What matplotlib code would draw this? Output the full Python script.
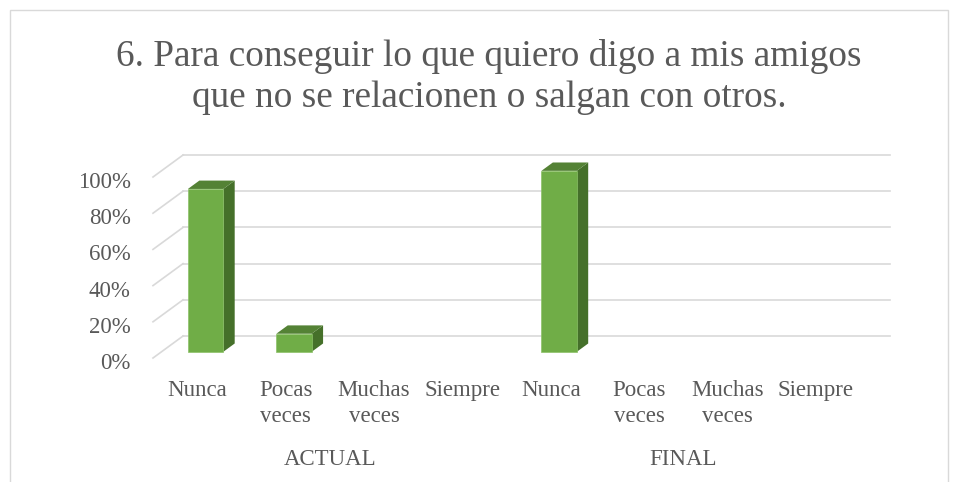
import matplotlib
matplotlib.use('Agg')
import matplotlib.pyplot as plt
from matplotlib.patches import Polygon, Rectangle
from matplotlib.transforms import ScaledTranslation

# DATA
groups = ['ACTUAL', 'FINAL']
categories = ['Nunca', 'Pocas\nveces', 'Muchas\nveces', 'Siempre']
actual = [0.90, 0.10, 0.0, 0.0]
final = [1.00, 0.0, 0.0, 0.0]
y_ticks = [0, 0.2, 0.4, 0.6, 0.8, 1.0]
y_labels = ['0%', '20%', '40%', '60%', '80%', '100%']
title = '6. Para conseguir lo que quiero digo a mis amigos\nque no se relacionen o salgan con otros.'

# STYLE
plt.rcParams['font.family'] = ['Liberation Serif', 'DejaVu Serif']
TXT = '#595959'
GRID = '#D9D9D9'
C_FRONT, C_TOP, C_SIDE = '#70AD47', '#548235', '#45702A'

# fake 3d: depth offset of the back wall, in data units
DX, DY = 0.34, 0.1215
BAR_W = 0.40
F0, F1 = 0.28, 0.66   # bar front / back depth fraction

fig = plt.figure(figsize=(9.55, 4.82), dpi=100)
ax = fig.add_axes([153 / 955, 124 / 482, 707 / 955, 181 / 482])
ax.set_xlim(-0.5, 7.5)
ax.set_ylim(0, 1)
for s in ax.spines.values():
    s.set_visible(False)
ax.patch.set_visible(False)

# walls / gridlines
for t in y_ticks:
    ax.plot([-0.5 + DX, 7.5 + DX], [t + DY, t + DY], color=GRID, lw=1.2, clip_on=False, zorder=1)
    ax.plot([-0.5, -0.5 + DX], [t, t + DY], color=GRID, lw=1.2, clip_on=False, zorder=1)

# bars
values = actual + final
for i, v in enumerate(values):
    if v <= 0:
        continue
    x0 = i - BAR_W / 2 + F0 * DX
    x1 = x0 + BAR_W
    y0 = F0 * DY
    y1 = v + F0 * DY
    ddx = (F1 - F0) * DX
    ddy = (F1 - F0) * DY
    side = [(x1, y0), (x1 + ddx, y0 + ddy), (x1 + ddx, y1 + ddy), (x1, y1)]
    top = [(x0, y1), (x1, y1), (x1 + ddx, y1 + ddy), (x0 + ddx, y1 + ddy)]
    front = [(x0, y0), (x1, y0), (x1, y1), (x0, y1)]
    ax.add_patch(Polygon(side, closed=True, fc=C_SIDE, ec='none', clip_on=False, zorder=3))
    ax.add_patch(Polygon(top, closed=True, fc=C_TOP, ec='none', clip_on=False, zorder=3))
    ax.add_patch(Polygon(front, closed=True, fc=C_FRONT, ec='#8CC168', lw=0.5, clip_on=False, zorder=4))

# axes labels
ax.set_yticks(y_ticks)
ax.set_yticklabels(y_labels, fontsize=16.5, color=TXT)
ax.set_xticks(range(len(values)))
ax.set_xticklabels(categories * len(groups), fontsize=16.5, color=TXT, linespacing=1.3)
ax.tick_params(axis='both', length=0)
ax.tick_params(axis='y', pad=16)
ax.tick_params(axis='x', pad=16)
shift = ScaledTranslation(0, -3 / 100, fig.dpi_scale_trans)
for lab in ax.get_yticklabels():
    lab.set_transform(lab.get_transform() + shift)

for g, name in enumerate(groups):
    ax.text(g * 4 + 1.5, -0.56, name, ha='center', va='center', fontsize=16.5, color=TXT)

fig.text(489 / 955, 1 - 77 / 482, title, ha='center', va='center', fontsize=26.8,
         color=TXT, linespacing=1.25)

# chart border
fig.add_artist(Rectangle((10 / 955, -0.1), 938 / 955, 472 / 482 + 0.1, transform=fig.transFigure,
                         fill=False, ec=GRID, lw=1))

plt.savefig('out.png', dpi=100)
